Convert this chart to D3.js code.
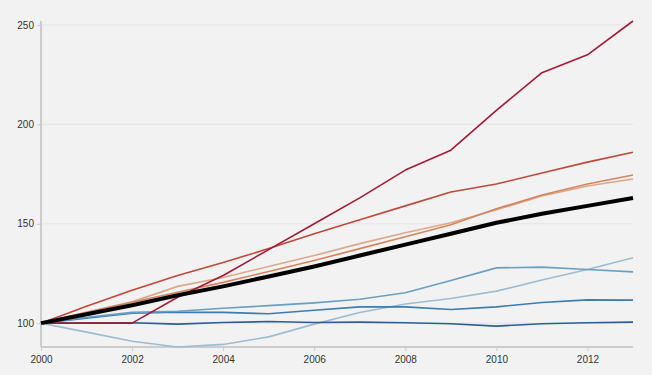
<!DOCTYPE html>
<html><head><meta charset="utf-8">
<script src="https://cdn.jsdelivr.net/npm/d3@7"></script>
<style>
body{margin:0;background:#f2f2f2;}
svg{display:block;background:#f2f2f2;}
.tick text{font-family:"Liberation Sans",Arial,sans-serif;font-size:10px;fill:#333;}
</style></head><body>
<script>
const years = [2000,2001,2002,2003,2004,2005,2006,2007,2008,2009,2010,2011,2012,2013];
const crimson  = [100,100,100,113,124,137,150,163,177,187,207,226,235,252];
const red      = [100,108.5,116.5,124,130.5,137.5,145,152,159,166,170,175.5,181,186];
const orange   = [100,105.5,110.5,115.5,120.5,126,131.5,137.5,143.5,149.5,157.5,164.5,170,174.5];
const tan      = [100,105.5,110.7,118.5,123,128.5,134,140,145.5,150.5,157,164,169,172.5];
const average  = [100,104.5,109,114,118.5,123.5,128.5,134,139.5,145,150.5,155,159,163];
const blueUpper= [100,103,105.4,106,107.5,108.8,110.2,112,115.3,121.5,127.8,128.2,127,125.8];
const blueMid  = [100,102.5,105,105.5,105.4,104.7,106.5,108.2,108.2,106.9,108.2,110.4,111.7,111.6];
const blueDark = [100,100,100.2,99.5,100.3,100.8,100.3,100.5,100.2,99.7,98.5,99.7,100.2,100.5];
const blueLight= [100,95.5,90.9,88,89.3,93.1,99.5,105.4,109.6,112.4,116.1,121.7,127,132.9];
const yTicks = [100,150,200,250];
const xTicks = [2000,2002,2004,2006,2008,2010,2012];

const series = [
  {v: blueLight, c:"#9dbcd1", w:1.6},
  {v: blueDark,  c:"#2b5d99", w:1.6},
  {v: blueMid,   c:"#3b7cb1", w:1.6},
  {v: blueUpper, c:"#6b9fc1", w:1.6},
  {v: tan,       c:"#dba98a", w:1.6},
  {v: orange,    c:"#d4845c", w:1.6},
  {v: red,       c:"#c0483a", w:1.6},
  {v: crimson,   c:"#a31a35", w:1.6},
  {v: average,   c:"#000000", w:4}
];

const W=652,H=375, m={l:41,r:19,t:21,b:28};
const svg=d3.select("body").append("svg").attr("width",W).attr("height",H);
const x=d3.scaleLinear().domain([2000,2013]).range([m.l,W-m.r]);
const all=series.flatMap(s=>s.v);
const y=d3.scaleLinear().domain([d3.min(all),d3.max(all)]).range([H-m.b,m.t]);

// grid
svg.append("g").selectAll("line").data(yTicks).join("line")
  .attr("x1",m.l).attr("x2",W-m.r).attr("y1",d=>y(d)).attr("y2",d=>y(d))
  .attr("stroke","#e4e4e4").attr("stroke-width",1);

const ya=svg.append("g").attr("transform",`translate(${m.l},0)`)
  .call(d3.axisLeft(y).tickValues(yTicks).tickSize(4).tickPadding(3).tickFormat(d3.format("d")));
const xa=svg.append("g").attr("transform",`translate(0,${H-m.b})`)
  .call(d3.axisBottom(x).tickValues(xTicks).tickSize(4).tickPadding(5).tickFormat(d3.format("d")));
[ya,xa].forEach(a=>{
  a.select(".domain").attr("stroke","#cccccc").attr("stroke-width",2);
  a.selectAll(".tick line").attr("stroke","#cccccc");
});
xa.select(".domain").attr("d",`M${m.l},0H${W-m.r}`);
ya.select(".domain").attr("d",`M0,${m.t}V${H-m.b}`);

const line=d3.line().x((d,i)=>x(years[i])).y(d=>y(d));
svg.append("g").selectAll("path").data(series).join("path")
  .attr("d",d=>line(d.v)).attr("fill","none")
  .attr("stroke",d=>d.c).attr("stroke-width",d=>d.w)
  .attr("stroke-linejoin","round");
</script></body></html>
